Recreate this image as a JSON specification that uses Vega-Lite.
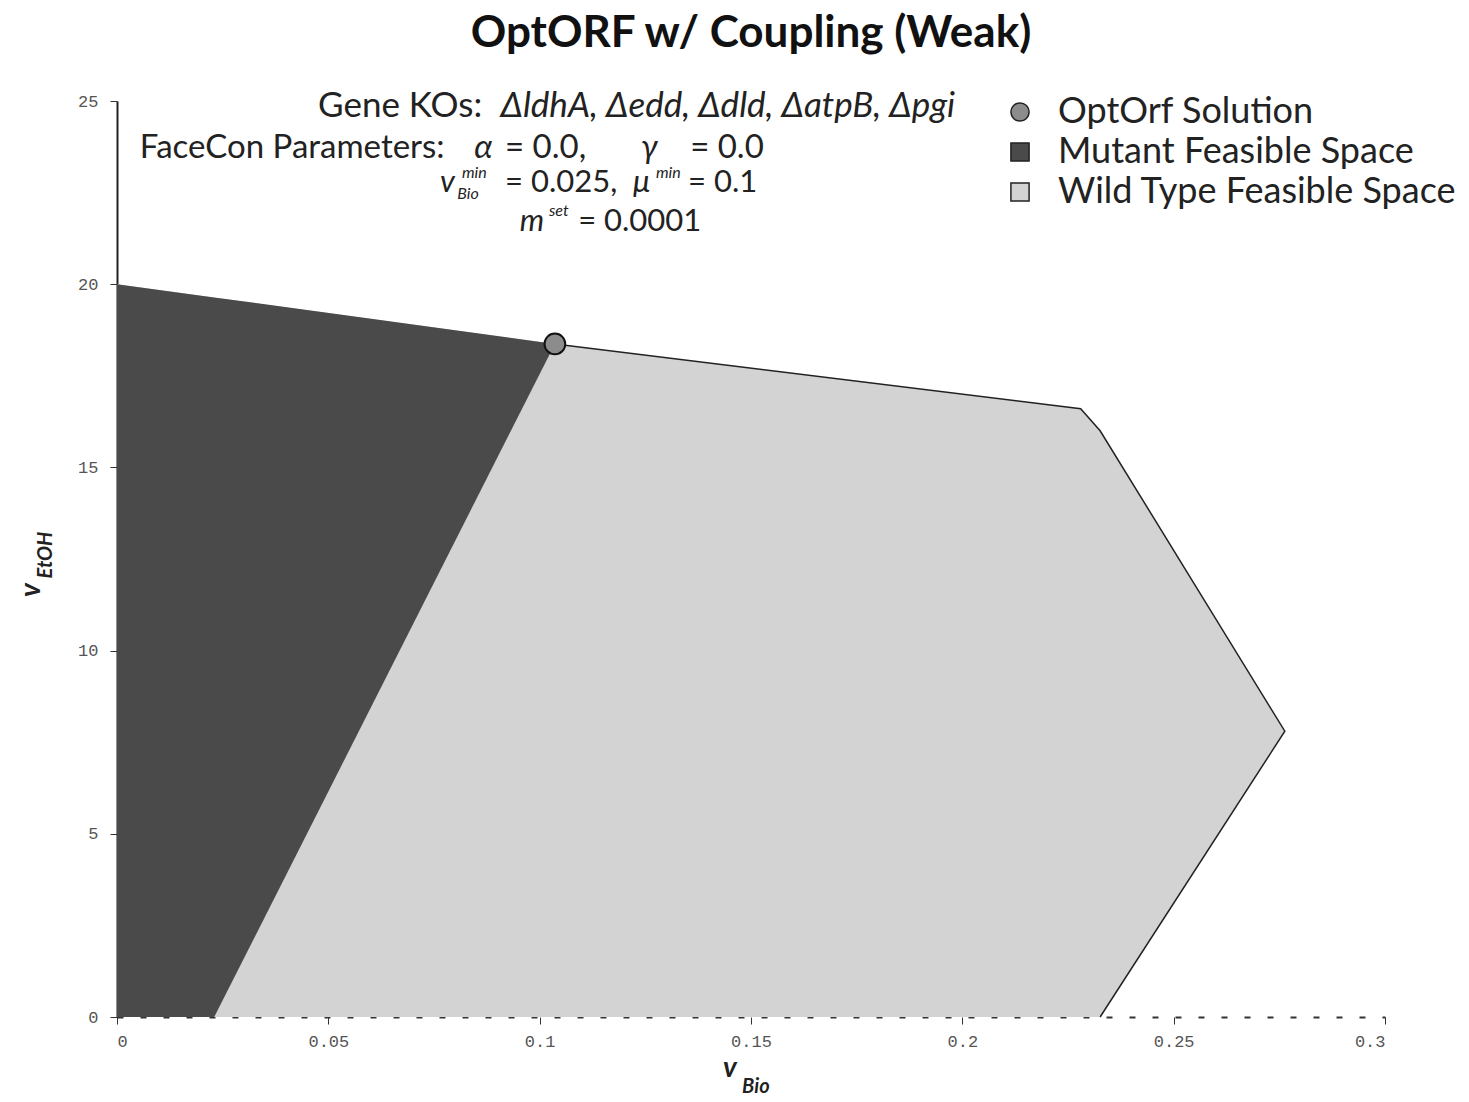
{
  "$schema": "https://vega.github.io/schema/vega-lite/v6.json",
  "autosize": {"type": "none"},
  "padding": {"left": 117, "top": 101, "right": 84, "bottom": 85},
  "width": 1268,
  "height": 916,
  "background": "white",
  "title": {"text": "OptORF w/ Coupling (Weak)", "fontSize": 44, "font": "Lato", "fontWeight": "bold", "anchor": "middle", "offset": 33, "color": "#111"},
  "config": {"view": {"stroke": null}, "text": {"font": "Lato", "fontSize": 33, "baseline": "middle", "align": "left", "color": "#222"}},
  "encoding": {
    "x": {"type": "quantitative", "scale": {"domain": [0, 0.3], "nice": false, "zero": false}},
    "y": {"type": "quantitative", "scale": {"domain": [0, 25], "nice": false, "zero": false}}
  },
  "layer": [
    {
      "data": {"values": [
        {"v_bio": 0, "lo": 0, "hi": 20},
        {"v_bio": 0.1036, "lo": 0, "hi": 18.37},
        {"v_bio": 0.228, "lo": 0, "hi": 16.6},
        {"v_bio": 0.2326, "lo": 0, "hi": 16.0},
        {"v_bio": 0.2763, "lo": 7.8, "hi": 7.8}
      ]},
      "mark": {"type": "area", "color": "#d3d3d3", "interpolate": "linear"},
      "encoding": {
        "x": {"field": "v_bio", "type": "quantitative", "title": null,
          "axis": {"values": [0, 0.05, 0.1, 0.15, 0.2, 0.25, 0.3], "format": "~g", "grid": false, "domainDash": [6, 17], "domainColor": "#333", "domainWidth": 2, "tickColor": "#333", "tickSize": 7, "labelFont": "Liberation Mono", "labelFontSize": 17, "labelColor": "#555", "labelPadding": 9}},
        "y": {"field": "hi", "type": "quantitative", "title": null,
          "axis": {"values": [0, 5, 10, 15, 20, 25], "grid": false, "domainColor": "#222", "domainWidth": 2, "tickColor": "#333", "tickSize": 7, "labelFont": "Liberation Mono", "labelFontSize": 17, "labelColor": "#555", "labelPadding": 12}},
        "y2": {"field": "lo"}
      }
    },
    {
      "data": {"values": [
        {"v_bio": 0.1036, "v_etoh": 18.37, "k": 1},
        {"v_bio": 0.228, "v_etoh": 16.6, "k": 2},
        {"v_bio": 0.2326, "v_etoh": 16.0, "k": 3},
        {"v_bio": 0.2763, "v_etoh": 7.8, "k": 4},
        {"v_bio": 0.2326, "v_etoh": 0, "k": 5}
      ]},
      "mark": {"type": "line", "color": "#222", "strokeWidth": 1.5},
      "encoding": {
        "x": {"field": "v_bio", "type": "quantitative"},
        "y": {"field": "v_etoh", "type": "quantitative"},
        "order": {"field": "k", "type": "quantitative"}
      }
    },
    {
      "data": {"values": [
        {"v_bio": 0, "lo": 0, "hi": 20},
        {"v_bio": 0.023, "lo": 0, "hi": 19.64},
        {"v_bio": 0.1036, "lo": 18.37, "hi": 18.37}
      ]},
      "mark": {"type": "area", "color": "#4a4a4a", "interpolate": "linear"},
      "encoding": {
        "x": {"field": "v_bio", "type": "quantitative"},
        "y": {"field": "hi", "type": "quantitative"},
        "y2": {"field": "lo"}
      }
    },
    {
      "data": {"values": [
        {"v_bio": 0.1036, "v_etoh": 18.37, "series": "OptOrf Solution"}
      ]},
      "mark": {"type": "point", "filled": true, "size": 430, "stroke": "#111", "strokeWidth": 2, "opacity": 1},
      "encoding": {
        "x": {"field": "v_bio", "type": "quantitative"},
        "y": {"field": "v_etoh", "type": "quantitative"},
        "color": {"field": "series", "type": "nominal",
          "scale": {"domain": ["OptOrf Solution", "Mutant Feasible Space", "Wild Type Feasible Space"], "range": ["#8c8c8c", "#4a4a4a", "#d3d3d3"]},
          "legend": {"title": null, "orient": "none", "legendX": 885, "legendY": -7, "labelFont": "Lato", "labelFontSize": 36, "labelColor": "#222", "symbolSize": 330, "symbolStrokeColor": "#222", "symbolStrokeWidth": 1.5, "labelOffset": 20, "rowPadding": 4, "labelLimit": 600}},
        "shape": {"field": "series", "type": "nominal",
          "scale": {"domain": ["OptOrf Solution", "Mutant Feasible Space", "Wild Type Feasible Space"], "range": ["circle", "square", "square"]},
          "legend": {"title": null, "orient": "none", "legendX": 885, "legendY": -7, "labelFont": "Lato", "labelFontSize": 36, "labelColor": "#222", "symbolSize": 330, "symbolStrokeColor": "#222", "symbolStrokeWidth": 1.5, "labelOffset": 20, "rowPadding": 4, "labelLimit": 600}}
      }
    },
    {"data": {"values": [{}]}, "mark": {"type": "text", "align": "right", "fontSize": 35}, "encoding": {"x": {"datum": 0.0864}, "y": {"datum": 24.85}, "text": {"value": "Gene KOs:"}}},
    {"data": {"values": [{}]}, "mark": {"type": "text", "align": "right", "fontStyle": "italic", "fontSize": 35}, "encoding": {"x": {"datum": 0.1983}, "y": {"datum": 24.85}, "text": {"value": "ΔldhA, Δedd, Δdld, ΔatpB, Δpgi"}}},
    {"data": {"values": [{}]}, "mark": {"type": "text"}, "encoding": {"x": {"datum": 0.0054}, "y": {"datum": 23.73}, "text": {"value": "FaceCon Parameters:"}}},
    {"data": {"values": [{}]}, "mark": {"type": "text", "fontStyle": "italic"}, "encoding": {"x": {"datum": 0.0845}, "y": {"datum": 23.73}, "text": {"value": "α"}}},
    {"data": {"values": [{}]}, "mark": {"type": "text"}, "encoding": {"x": {"datum": 0.0918}, "y": {"datum": 23.73}, "text": {"value": "= 0.0,"}}},
    {"data": {"values": [{}]}, "mark": {"type": "text", "fontStyle": "italic"}, "encoding": {"x": {"datum": 0.1240}, "y": {"datum": 23.73}, "text": {"value": "γ"}}},
    {"data": {"values": [{}]}, "mark": {"type": "text"}, "encoding": {"x": {"datum": 0.1356}, "y": {"datum": 23.73}, "text": {"value": "= 0.0"}}},
    {"data": {"values": [{}]}, "mark": {"type": "text", "fontStyle": "italic", "fontSize": 31}, "encoding": {"x": {"datum": 0.0764}, "y": {"datum": 22.77}, "text": {"value": "v"}}},
    {"data": {"values": [{}]}, "mark": {"type": "text", "fontStyle": "italic", "fontSize": 16}, "encoding": {"x": {"datum": 0.0816}, "y": {"datum": 23.03}, "text": {"value": "min"}}},
    {"data": {"values": [{}]}, "mark": {"type": "text", "fontStyle": "italic", "fontSize": 16}, "encoding": {"x": {"datum": 0.0805}, "y": {"datum": 22.47}, "text": {"value": "Bio"}}},
    {"data": {"values": [{}]}, "mark": {"type": "text", "fontSize": 31}, "encoding": {"x": {"datum": 0.0918}, "y": {"datum": 22.77}, "text": {"value": "= 0.025,"}}},
    {"data": {"values": [{}]}, "mark": {"type": "text", "fontStyle": "italic", "fontSize": 31}, "encoding": {"x": {"datum": 0.1221}, "y": {"datum": 22.77}, "text": {"value": "μ"}}},
    {"data": {"values": [{}]}, "mark": {"type": "text", "fontStyle": "italic", "fontSize": 16}, "encoding": {"x": {"datum": 0.1275}, "y": {"datum": 23.03}, "text": {"value": "min"}}},
    {"data": {"values": [{}]}, "mark": {"type": "text", "fontSize": 31}, "encoding": {"x": {"datum": 0.1351}, "y": {"datum": 22.77}, "text": {"value": "= 0.1"}}},
    {"data": {"values": [{}]}, "mark": {"type": "text", "fontStyle": "italic", "fontSize": 31}, "encoding": {"x": {"datum": 0.0953}, "y": {"datum": 21.70}, "text": {"value": "m"}}},
    {"data": {"values": [{}]}, "mark": {"type": "text", "fontStyle": "italic", "fontSize": 16}, "encoding": {"x": {"datum": 0.1022}, "y": {"datum": 22.0}, "text": {"value": "set"}}},
    {"data": {"values": [{}]}, "mark": {"type": "text", "fontSize": 31}, "encoding": {"x": {"datum": 0.1091}, "y": {"datum": 21.70}, "text": {"value": "= 0.0001"}}},
    {"data": {"values": [{}]}, "mark": {"type": "text", "fontStyle": "italic", "fontWeight": "bold", "fontSize": 28}, "encoding": {"x": {"datum": 0.1434}, "y": {"datum": -1.42}, "text": {"value": "v"}}},
    {"data": {"values": [{}]}, "mark": {"type": "text", "fontStyle": "italic", "fontWeight": "bold", "fontSize": 20}, "encoding": {"x": {"datum": 0.1479}, "y": {"datum": -1.9}, "text": {"value": "Bio"}}},
    {"data": {"values": [{}]}, "mark": {"type": "text", "fontStyle": "italic", "fontWeight": "bold", "fontSize": 28, "angle": 270, "align": "center"}, "encoding": {"x": {"datum": -0.0201}, "y": {"datum": 11.65}, "text": {"value": "v"}}},
    {"data": {"values": [{}]}, "mark": {"type": "text", "fontStyle": "italic", "fontWeight": "bold", "fontSize": 20, "angle": 270, "align": "center"}, "encoding": {"x": {"datum": -0.0168}, "y": {"datum": 12.61}, "text": {"value": "EtOH"}}}
  ]
}
